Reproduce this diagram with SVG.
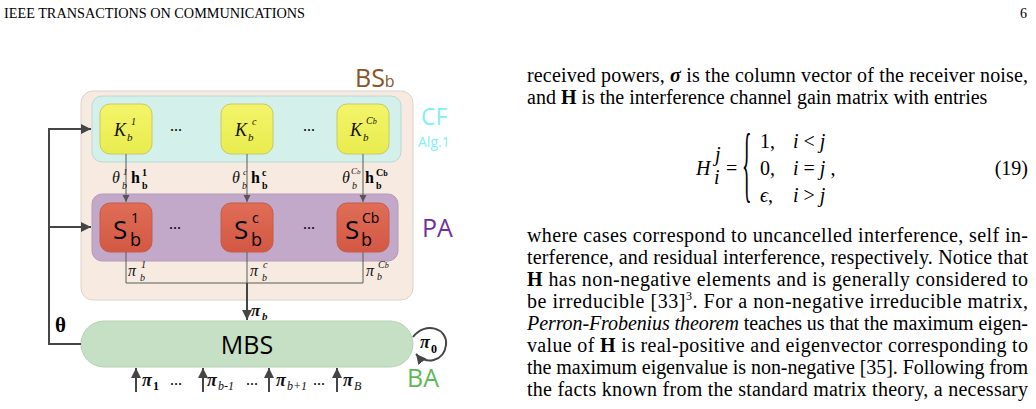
<svg xmlns="http://www.w3.org/2000/svg" width="1036" height="409" viewBox="0 0 1036 409">
<style>
.serif{font-family:"Liberation Serif","Times New Roman",serif;fill:#000}
.sans{font-family:"Open Sans","Liberation Sans",sans-serif}
.body{font-family:"Liberation Serif","Times New Roman",serif;font-size:20px;fill:#000}
.b{font-weight:bold}
.i{font-style:italic}
.thick{stroke:#454545;stroke-width:2;fill:none}
.thin{stroke:#5a5a5a;stroke-width:1;fill:none}
.kbox{fill:url(#gy);stroke:#c9c86a;stroke-width:1}
.sbox{fill:url(#gr);stroke:#c45c48;stroke-width:1}
.ml{font-family:"Liberation Serif","Times New Roman",serif;font-style:italic;fill:#111}
</style>
<defs>
<linearGradient id="gy" x1="0" y1="0" x2="0" y2="1"><stop offset="0" stop-color="#f4f46a"/><stop offset="1" stop-color="#e8ec4e"/></linearGradient>
<linearGradient id="gr" x1="0" y1="0" x2="0" y2="1"><stop offset="0" stop-color="#e06d57"/><stop offset="1" stop-color="#d35843"/></linearGradient>
<marker id="ah" markerUnits="userSpaceOnUse" markerWidth="12" markerHeight="12" refX="10" refY="5" orient="auto"><path d="M0,0 L10,5 L0,10 z" fill="#454545"/></marker>
<marker id="as" markerUnits="userSpaceOnUse" markerWidth="8" markerHeight="8" refX="7" refY="3.5" orient="auto"><path d="M0,0 L7,3.5 L0,7 z" fill="#555"/></marker>
</defs>
<rect width="1036" height="409" fill="#fff"/>

<!-- page header -->
<text class="serif" x="4" y="18" font-size="14" textLength="301" lengthAdjust="spacingAndGlyphs">IEEE TRANSACTIONS ON COMMUNICATIONS</text>
<text class="serif" x="1020" y="18" font-size="14">6</text>

<!-- BS container -->
<g id="bs">
<rect x="81" y="91" width="332" height="209" rx="12" fill="#f7ebe1" stroke="#dcd2c9"/>
<text class="sans" x="355" y="87" font-size="25" fill="#8a5428">BS<tspan font-size="16">b</tspan></text>
</g>
<g id="cf">
<rect x="92" y="96" width="309" height="66" rx="10" fill="#d3f0ea" stroke="#bcd8d3"/>
<text class="sans" x="421" y="125" font-size="23" fill="#80f0f4">CF</text>
<text class="sans" x="418" y="147" font-size="14" fill="#80f0f4">Alg.1</text>
</g>
<g id="pa">
<rect x="92" y="194" width="306" height="67" rx="10" fill="#c3a9c9" stroke="#b49bb9"/>
<text class="sans" x="422" y="237" font-size="25" fill="#7030a0">PA</text>
</g>

<g id="k1"><rect class="kbox" x="100" y="104" width="52" height="50" rx="10"/>
<text class="ml" x="114" y="136" font-size="18">K</text><text class="ml" x="131" y="125" font-size="10">1</text><text class="ml" x="127" y="141" font-size="11">b</text></g>
<g id="k2"><rect class="kbox" x="221" y="104" width="52" height="50" rx="10"/>
<text class="ml" x="235" y="136" font-size="18">K</text><text class="ml" x="252" y="125" font-size="10">c</text><text class="ml" x="248" y="141" font-size="11">b</text></g>
<g id="k3"><rect class="kbox" x="337" y="104" width="52" height="50" rx="10"/>
<text class="ml" x="350" y="136" font-size="18">K</text><text class="ml" x="366" y="124" font-size="10">C<tspan font-size="8">b</tspan></text><text class="ml" x="363" y="141" font-size="11">b</text></g>

<g id="s1"><rect class="sbox" x="100" y="203" width="52" height="49" rx="10"/>
<text class="sans" x="113" y="239" font-size="26" fill="#000">S</text><text class="sans" x="131" y="223" font-size="14" fill="#000">1</text><text class="sans" x="130" y="246" font-size="18" fill="#000">b</text></g>
<g id="s2"><rect class="sbox" x="221" y="203" width="52" height="49" rx="10"/>
<text class="sans" x="234" y="239" font-size="26" fill="#000">S</text><text class="sans" x="252" y="223" font-size="14" fill="#000">c</text><text class="sans" x="251" y="246" font-size="18" fill="#000">b</text></g>
<g id="s3"><rect class="sbox" x="337" y="203" width="52" height="49" rx="10"/>
<text class="sans" x="345" y="239" font-size="26" fill="#000">S</text><text class="sans" x="362" y="223" font-size="14" fill="#000">Cb</text><text class="sans" x="361" y="246" font-size="18" fill="#000">b</text></g>

<g id="mbs">
<rect x="81" y="321" width="332" height="46" rx="23" fill="#c6e0c5" stroke="#b6d1b4"/>
<text class="sans" x="247" y="354" font-size="25" text-anchor="middle" fill="#000">MBS</text>
</g>
<text class="sans" x="407" y="387" font-size="25" fill="#5fb857">BA</text>

<!-- dots -->
<g class="serif" font-size="16">
<text x="170" y="131">...</text><text x="303" y="131">...</text>
<text x="169" y="229">...</text><text x="303" y="229">...</text>
<text x="170" y="385">...</text><text x="246" y="385">...</text><text x="313" y="385">...</text>
</g>

<!-- connectors -->
<g id="connectors">
<path class="thick" d="M81 344 H49 V129 H91" marker-end="url(#ah)"/>
<path class="thick" d="M49 227 H91" marker-end="url(#ah)"/>
<path class="thin" d="M126 154 V202" marker-end="url(#as)"/>
<path class="thin" d="M247 154 V202" marker-end="url(#as)"/>
<path class="thin" d="M363 154 V202" marker-end="url(#as)"/>
<path class="thin" d="M126 252 V283 H363 V252"/>
<path class="thin" d="M247 252 V283"/>
<path class="thick" d="M247 283 V320" marker-end="url(#ah)"/>
<path class="thick" d="M136 392 V368" marker-end="url(#ah)"/>
<path class="thick" d="M203 392 V368" marker-end="url(#ah)"/>
<path class="thick" d="M269 392 V368" marker-end="url(#ah)"/>
<path class="thick" d="M337 392 V368" marker-end="url(#ah)"/>
<path class="thick" d="M413 337 C425 321 448 328 446 345 C444 362 425 365 416 354" marker-end="url(#ah)"/>
</g>

<!-- connector labels -->
<g id="labels">
<text class="serif b" x="55" y="332" font-size="21">θ</text>
<text class="ml" x="112" y="183" font-size="16">θ</text><text class="ml" x="123" y="175" font-size="9">1</text><text class="ml" x="122" y="189" font-size="10">b</text>
<text class="serif b" x="131" y="183" font-size="16">h</text><text class="serif b" x="142" y="176" font-size="10">1</text><text class="serif b" x="142" y="189" font-size="10">b</text>
<text class="ml" x="232" y="183" font-size="16">θ</text><text class="ml" x="243" y="175" font-size="9">c</text><text class="ml" x="242" y="189" font-size="10">b</text>
<text class="serif b" x="251" y="183" font-size="16">h</text><text class="serif b" x="262" y="176" font-size="10">c</text><text class="serif b" x="262" y="189" font-size="10">b</text>
<text class="ml" x="342" y="183" font-size="16">θ</text><text class="ml" x="351" y="174" font-size="9">C<tspan font-size="7">b</tspan></text><text class="ml" x="352" y="189" font-size="10">b</text>
<text class="serif b" x="365" y="183" font-size="16">h</text><text class="serif b" x="376" y="176" font-size="10">C<tspan font-size="8">b</tspan></text><text class="serif b" x="376" y="189" font-size="10">b</text>

<text class="ml" x="128" y="276" font-size="16">π</text><text class="ml" x="141" y="268" font-size="10">1</text><text class="ml" x="140" y="281" font-size="10">b</text>
<text class="ml" x="250" y="276" font-size="16">π</text><text class="ml" x="263" y="268" font-size="10">c</text><text class="ml" x="262" y="281" font-size="10">b</text>
<text class="ml" x="366" y="276" font-size="16">π</text><text class="ml" x="378" y="268" font-size="10">C<tspan font-size="8">b</tspan></text><text class="ml" x="377" y="280" font-size="10">b</text>

<text class="ml b" x="251" y="316" font-size="17">π</text><text class="ml b" x="262" y="320" font-size="11">b</text>
<text class="ml b" x="420" y="348" font-size="18">π</text><text class="serif b" x="431" y="353" font-size="12">0</text>

<text class="ml b" x="142" y="386" font-size="18">π</text><text class="serif b" x="153" y="390" font-size="12">1</text>
<text class="ml b" x="207" y="386" font-size="18">π</text><text class="ml" x="218" y="390" font-size="12">b-1</text>
<text class="ml b" x="276" y="386" font-size="18">π</text><text class="ml" x="287" y="390" font-size="12">b+1</text>
<text class="ml b" x="343" y="386" font-size="18">π</text><text class="ml" x="354" y="390" font-size="12">B</text>
</g>

<!-- body text -->
<g id="text">
<text class="body" x="527" y="82" textLength="501" lengthAdjust="spacing">received powers, <tspan class="b i">σ</tspan> is the column vector of the receiver noise,</text>
<text class="body" x="527" y="104">and <tspan class="b">H</tspan> is the interference channel gain matrix with entries</text>

<text class="body i" x="696" y="175">H</text><text class="body i" x="715" y="161" font-size="12">j</text><text class="body i" x="714" y="184" font-size="12">i</text>
<text class="body" x="726" y="175">=</text>
<text class="body" x="742" y="175.3" font-size="22" transform="translate(0 170) scale(1 4.2) translate(0 -170)">{</text>
<text class="body" x="760" y="148">1,</text><text class="body" x="793" y="148"><tspan class="i">i</tspan> &lt; <tspan class="i">j</tspan></text>
<text class="body" x="760" y="175">0,</text><text class="body" x="793" y="175"><tspan class="i">i</tspan> = <tspan class="i">j</tspan> ,</text>
<text class="body" x="760" y="202"><tspan class="i">ϵ</tspan>,</text><text class="body" x="793" y="202"><tspan class="i">i</tspan> &gt; <tspan class="i">j</tspan></text>
<text class="body" x="1028" y="175" text-anchor="end">(19)</text>

<text class="body" x="527" y="242" textLength="501" lengthAdjust="spacing">where cases correspond to uncancelled interference, self in-</text>
<text class="body" x="527" y="264" textLength="501" lengthAdjust="spacing">terference, and residual interference, respectively. Notice that</text>
<text class="body" x="527" y="286" textLength="501" lengthAdjust="spacing"><tspan class="b">H</tspan> has non-negative elements and is generally considered to</text>
<text class="body" x="527" y="308" textLength="501" lengthAdjust="spacing">be irreducible [33]<tspan font-size="12" dy="-8">3</tspan><tspan dy="8">. For a non-negative irreducible matrix,</tspan></text>
<text class="body" x="527" y="330" textLength="501" lengthAdjust="spacing"><tspan class="i">Perron-Frobenius theorem</tspan> teaches us that the maximum eigen-</text>
<text class="body" x="527" y="352" textLength="501" lengthAdjust="spacing">value of <tspan class="b">H</tspan> is real-positive and eigenvector corresponding to</text>
<text class="body" x="527" y="374" textLength="501" lengthAdjust="spacing">the maximum eigenvalue is non-negative [35]. Following from</text>
<text class="body" x="527" y="396" textLength="501" lengthAdjust="spacing">the facts known from the standard matrix theory, a necessary</text>
</g>
</svg>
